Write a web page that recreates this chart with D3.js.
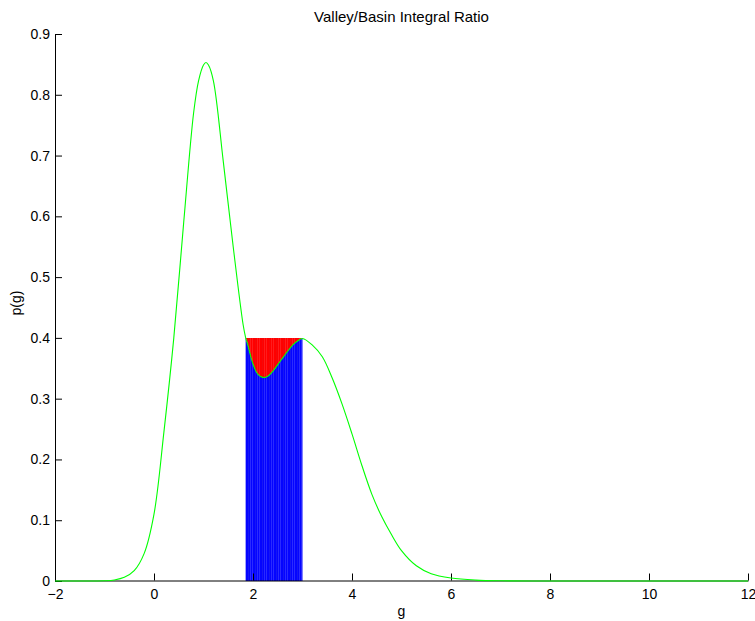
<!DOCTYPE html>
<html>
<head>
<meta charset="utf-8">
<script src="https://cdn.jsdelivr.net/npm/d3@7"></script>
<style>
  html, body { margin: 0; padding: 0; background: #fff; }
  svg { display: block; font-family: "Liberation Sans", Arial, Helvetica, sans-serif; }
</style>
</head>
<body>
<svg id="chart" width="755" height="621"></svg>
<script>
// Grey-level density p(g)
const gValues = [-2, -1.5, -1.0, -0.8, -0.6, -0.4, -0.2, 0, 0.2, 0.4, 0.6, 0.8, 0.9, 1.0, 1.05, 1.1, 1.2, 1.4, 1.6, 1.8, 1.85, 1.9, 2.0, 2.1, 2.2, 2.3, 2.4, 2.5, 2.6, 2.7, 2.8, 2.9, 3.0, 3.2, 3.4, 3.6, 3.8, 4.0, 4.2, 4.4, 4.6, 4.8, 5.0, 5.3, 5.6, 6.0, 6.5, 7.0, 8.0, 12.0];
const pValues = [0, 0, 0.0004, 0.0017, 0.006, 0.017, 0.045, 0.11, 0.245, 0.40, 0.59, 0.77, 0.823, 0.849, 0.853, 0.849, 0.823, 0.69, 0.55, 0.422, 0.401, 0.387, 0.357, 0.340, 0.335, 0.337, 0.345, 0.356, 0.367, 0.378, 0.388, 0.395, 0.399, 0.388, 0.369, 0.334, 0.291, 0.242, 0.190, 0.143, 0.106, 0.076, 0.050, 0.025, 0.012, 0.005, 0.0015, 0.0003, 0, 0];

// Basin between the valley edges, capped at the lower peak level
const basinBounds = [1.85, 3.0];
const basinLevel = 0.4;

const xTicks = [-2, 0, 2, 4, 6, 8, 10, 12];
const yTicks = [0, 0.1, 0.2, 0.3, 0.4, 0.5, 0.6, 0.7, 0.8, 0.9];
const titleText = "Valley/Basin Integral Ratio";
const xLabel = "g";
const yLabel = "p(g)";

const svg = d3.select("#chart");
const x = d3.scaleLinear().domain([-2, 12]).range([55, 748]);
const y = d3.scaleLinear().domain([0, 0.9]).range([581, 34]);

const pts = gValues.map((g, i) => ({ g, p: pValues[i] }));
const curve = d3.curveCatmullRom.alpha(0.5);

const defs = svg.append("defs");
defs.append("clipPath").attr("id", "basinClip")
  .append("rect")
  .attr("x", x(basinBounds[0]))
  .attr("y", y(basinLevel))
  .attr("width", x(basinBounds[1]) - x(basinBounds[0]))
  .attr("height", y(0) - y(basinLevel));

// Vertical hatch texture for the filled strips
function stripePattern(id, base, light, dark) {
  const p = defs.append("pattern").attr("id", id)
    .attr("patternUnits", "userSpaceOnUse").attr("width", 7).attr("height", 10);
  p.append("rect").attr("width", 7).attr("height", 10).attr("fill", base);
  p.append("rect").attr("x", 0).attr("width", 1).attr("height", 10).attr("fill", light);
  p.append("rect").attr("x", 3).attr("width", 1).attr("height", 10).attr("fill", dark);
  p.append("rect").attr("x", 5).attr("width", 1).attr("height", 10).attr("fill", light);
}
stripePattern("blueStripes", "#0505ff", "#2a2aff", "#1616f4");
stripePattern("redStripes", "#ff0000", "#ff1c1c", "#f40808");

const plot = svg.append("g").attr("clip-path", "url(#basinClip)");

// Area under the curve inside the basin
plot.append("path")
  .datum(pts)
  .attr("fill", "url(#blueStripes)")
  .attr("d", d3.area().x(d => x(d.g)).y0(y(0)).y1(d => y(d.p)).curve(curve));

// Valley between the curve and the basin level
plot.append("path")
  .datum(pts)
  .attr("fill", "url(#redStripes)")
  .attr("d", d3.area().x(d => x(d.g)).y0(y(basinLevel)).y1(d => y(Math.min(d.p, basinLevel))).curve(curve));

// Axes
const xAxis = svg.append("g").attr("transform", `translate(0,${y(0) - 0.5})`)
  .call(d3.axisBottom(x).tickValues(xTicks).tickSizeInner(-7).tickSizeOuter(0).tickPadding(9)
    .tickFormat(d => d < 0 ? "\u2212" + Math.abs(d) : String(d)));
xAxis.select(".domain").attr("stroke", "#000");
xAxis.selectAll(".tick line").attr("stroke", "#000");
xAxis.selectAll(".tick text").attr("fill", "#000").style("font-size", "14px");

const yAxis = svg.append("g").attr("transform", `translate(55,0)`)
  .call(d3.axisLeft(y).tickValues(yTicks).tickSizeInner(-7).tickSizeOuter(0).tickPadding(5)
    .tickFormat(d => d === 0 ? "0" : d.toFixed(1)));
yAxis.select(".domain").attr("stroke", "#000");
yAxis.selectAll(".tick line").attr("stroke", "#000");
yAxis.selectAll(".tick text").attr("fill", "#000").style("font-size", "14px");

// Density curve
svg.append("path")
  .datum(pts)
  .attr("fill", "none")
  .attr("stroke", "#00ff00")
  .attr("stroke-width", 1.1)
  .attr("d", d3.line().x(d => x(d.g)).y(d => y(d.p)).curve(curve));

// Labels
svg.append("text").attr("x", (x(-2) + x(12)) / 2).attr("y", 22)
  .attr("text-anchor", "middle").style("font-size", "15px").text(titleText);
svg.append("text").attr("x", x(5)).attr("y", 616)
  .attr("text-anchor", "middle").style("font-size", "14px").text(xLabel);
svg.append("text").attr("transform", `translate(21,303) rotate(-90)`)
  .attr("text-anchor", "middle").style("font-size", "14px").text(yLabel);
</script>
</body>
</html>
